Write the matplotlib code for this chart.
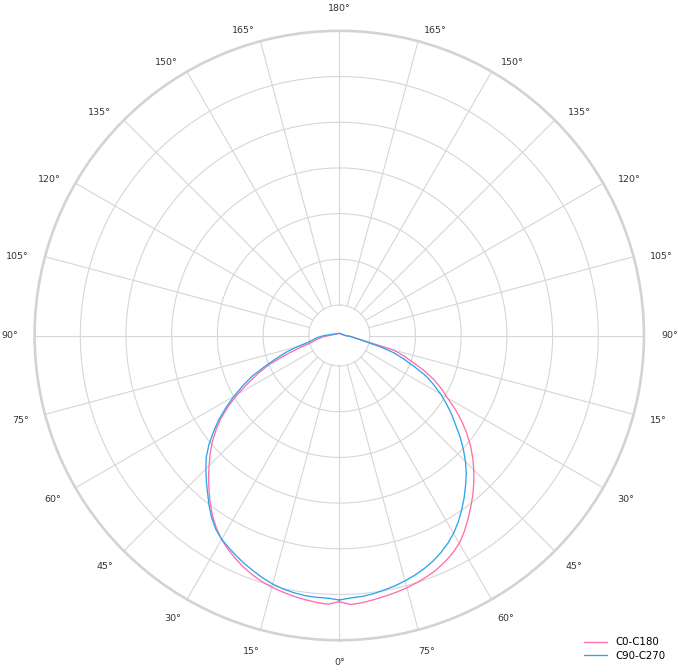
import numpy as np
import matplotlib
matplotlib.use("Agg")
import matplotlib.pyplot as plt

# gamma angles (deg), shared by all four half-planes
gamma = [0, 2.5, 5, 7.5, 10, 12.5, 15, 17.5, 20, 22.5, 25, 27.5, 30, 32.5,
         35, 37.5, 40, 42.5, 45, 47.5, 50, 52.5, 55, 57.5, 60, 62.5, 65,
         67.5, 70, 72.5, 75, 77.5, 80, 85, 90, 180]

# intensities (outer ring = 304.7)
c0 = [266.2, 269.0, 267.8, 266.3, 264.6, 262.6, 260.6, 257.9, 254.6, 250.6,
      246.0, 241.0, 235.5, 228.6, 220.8, 212.0, 202.7, 193.6, 184.2, 175.2,
      166.0, 155.5, 144.6, 131.5, 117.5, 102.5, 89.4, 76.0, 58.0, 43.5,
      31.0, 26.5, 23.3, 16.5, 10.0, 2.2]
c180 = [266.2, 269.3, 268.1, 266.4, 264.7, 263.0, 261.2, 259.0, 256.5, 253.6,
        249.8, 245.4, 240.0, 232.6, 224.3, 216.0, 207.8, 199.2, 190.2, 181.0,
        171.2, 160.8, 149.5, 137.6, 125.0, 115.0, 104.5, 91.8, 78.4, 67.5,
        56.5, 28.0, 18.7, 12.0, 6.0, 2.2]
c90 = [264.5, 262.9, 262.8, 262.4, 261.2, 259.6, 257.3, 254.3, 250.7, 247.2,
       243.3, 239.3, 235.2, 229.8, 222.5, 214.0, 205.0, 196.8, 188.7, 180.5,
       170.3, 158.8, 147.2, 134.5, 121.8, 108.8, 96.0, 80.5, 67.0, 56.0,
       44.0, 32.5, 27.5, 22.0, 15.0, 2.2]
c270 = [264.5, 262.7, 261.9, 260.5, 258.5, 256.5, 254.0, 251.3, 248.1, 244.4,
        239.8, 234.6, 228.5, 221.3, 213.2, 205.0, 196.4, 188.0, 178.5, 168.3,
        157.6, 146.5, 137.0, 127.0, 117.0, 106.3, 95.8, 81.0, 68.6, 57.0,
        40.6, 25.3, 18.0, 11.0, 6.0, 2.2]

series_names = ["C0-C180", "C90-C270"]
series_colors = ["#ff6ea9", "#2ea4ee"]

r_max = 304.7
r_inner = 30.5
ring_step = 45.7
tick_angles = list(range(0, 360, 15))

grid_color = "#d6d6d6"
text_color = "#333333"

fig = plt.figure(figsize=(6.78, 6.72), dpi=100)
ax = fig.add_axes([0.05103, 0.04732, 0.8988, 0.9068], projection="polar")
ax.set_theta_zero_location("S")
ax.set_theta_direction(-1)
ax.set_ylim(0, r_max)
ax.set_xticks([])
ax.set_yticks([])
ax.grid(False)
ax.spines["polar"].set_color("#d3d3d3")
ax.spines["polar"].set_linewidth(1.9)

# rings and spokes
ring_theta = np.linspace(0, 2 * np.pi, 721)
for k in range(6):
    r = r_inner + ring_step * k
    ax.plot(ring_theta, np.full_like(ring_theta, r), color=grid_color, lw=0.8, zorder=1)
for a in tick_angles:
    t = np.deg2rad(a)
    ax.plot([t, t], [r_inner, r_max], color=grid_color, lw=0.8, zorder=1)

# curves: left half at +gamma, right half at -gamma
g = np.array(gamma)
for (left, right), name, col in zip([(c0, c180), (c90, c270)], series_names, series_colors):
    th = np.deg2rad(np.concatenate([g, -g[::-1]]))
    rr = np.concatenate([left, right[::-1]])
    ax.plot(th, rr, color=col, lw=0.95, label=name, zorder=3)

# angle labels (right lower quarter is labelled the other way round)
R_lab = 327
for a in range(0, 181, 15):
    for side in (1, -1):
        if side == -1 and a in (0, 180):
            continue
        txt = a if (side == 1 or a >= 90) else 90 - a
        if 0 < a < 180:
            if a <= 90:
                dx, dy = 3, 0
            else:
                dx = 6 + 5 * (a - 105) / 60
                dy = dx
        else:
            dx, dy = 0, 0
        ax.annotate(f"{txt}°", xy=(np.deg2rad(side * a), R_lab),
                    xytext=(-side * dx, -dy), textcoords="offset pixels",
                    ha="center", va="center", fontsize=6.8, color=text_color,
                    annotation_clip=False)

fig.legend(loc="lower right", bbox_to_anchor=(0.987, 0.0105), frameon=False,
           fontsize=7.4, handlelength=2.2, handletextpad=0.8, labelspacing=0.36,
           borderaxespad=0)

fig.savefig("out.png", dpi=100, facecolor="white")
